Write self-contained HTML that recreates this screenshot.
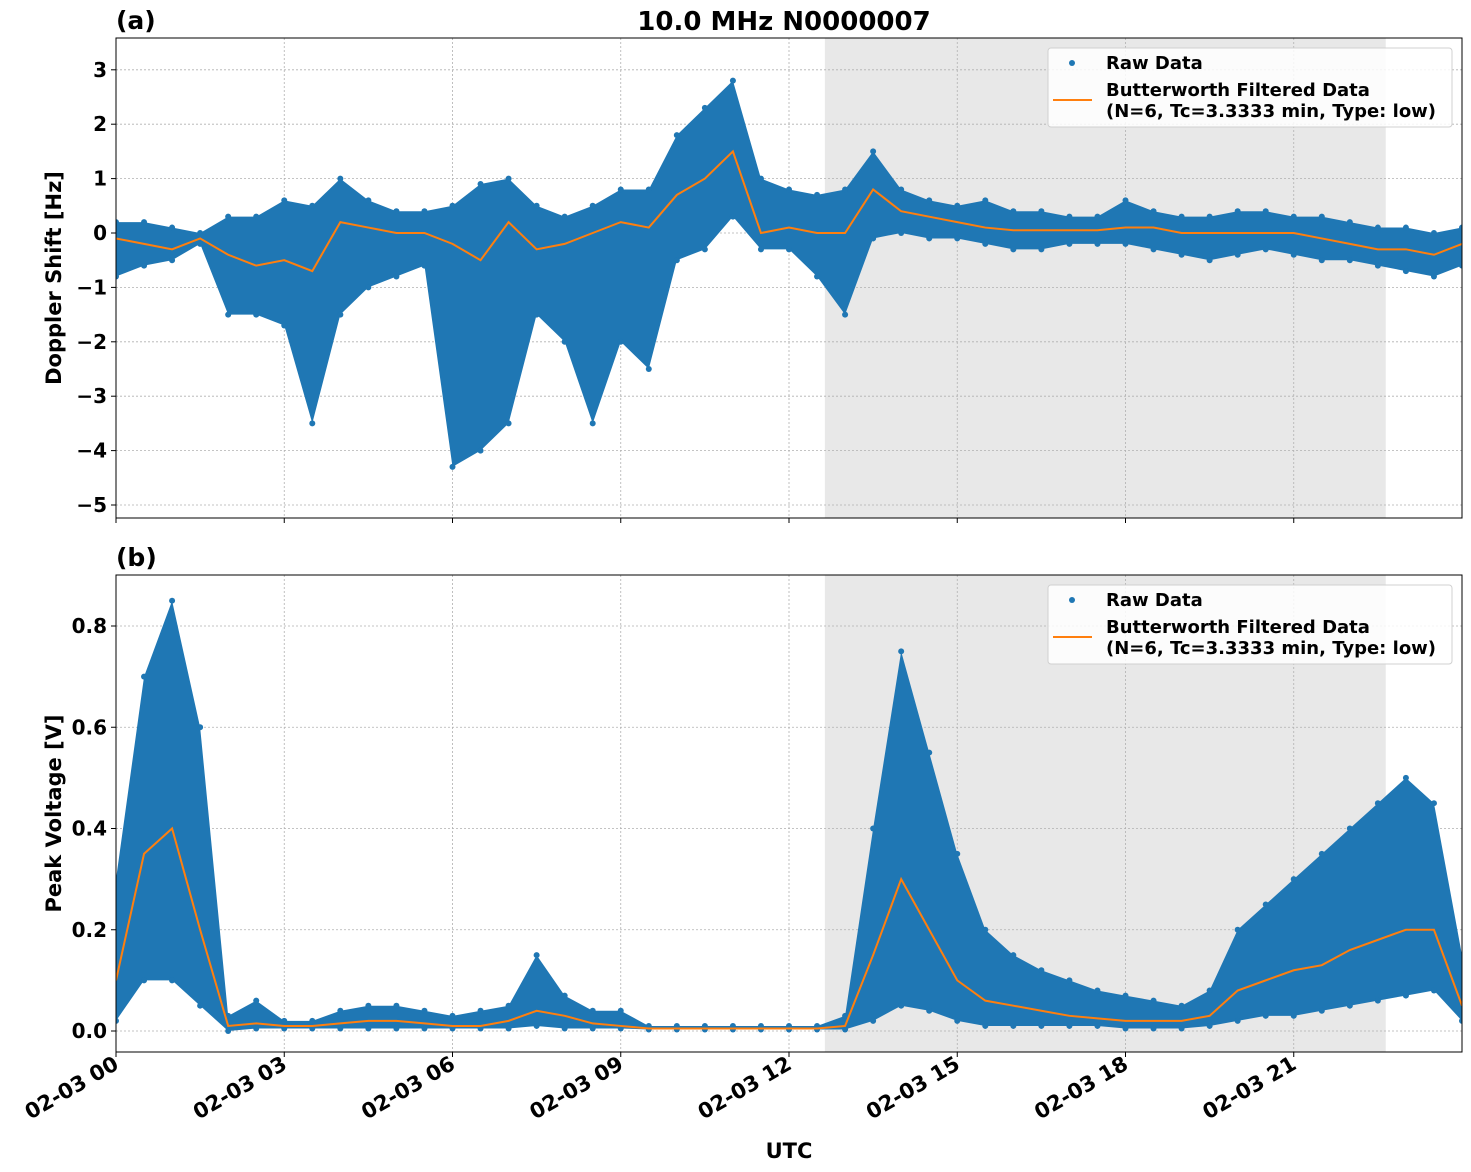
<!DOCTYPE html>
<html><head><meta charset="utf-8"><style>
body{margin:0;background:#fff;}
svg{display:block;font-family:"DejaVu Sans","Liberation Sans",sans-serif;font-weight:bold;}
</style></head><body>
<svg id="c" width="1471" height="1172" viewBox="0 0 1471 1172"></svg>
<script>
const hours=[0,0.5,1,1.5,2,2.5,3,3.5,4,4.5,5,5.5,6,6.5,7,7.5,8,8.5,9,9.5,10,10.5,11,11.5,12,12.5,13,13.5,14,14.5,15,15.5,16,16.5,17,17.5,18,18.5,19,19.5,20,20.5,21,21.5,22,22.5,23,23.5,24];
const dopFilt=[-0.1,-0.2,-0.3,-0.1,-0.4,-0.6,-0.5,-0.7,0.2,0.1,0,0,-0.2,-0.5,0.2,-0.3,-0.2,0,0.2,0.1,0.7,1.0,1.5,0,0.1,0,0,0.8,0.4,0.3,0.2,0.1,0.05,0.05,0.05,0.05,0.1,0.1,0,0,0,0,0,-0.1,-0.2,-0.3,-0.3,-0.4,-0.2];
const dopHi=[0.2,0.2,0.1,0,0.3,0.3,0.6,0.5,1.0,0.6,0.4,0.4,0.5,0.9,1.0,0.5,0.3,0.5,0.8,0.8,1.8,2.3,2.8,1.0,0.8,0.7,0.8,1.5,0.8,0.6,0.5,0.6,0.4,0.4,0.3,0.3,0.6,0.4,0.3,0.3,0.4,0.4,0.3,0.3,0.2,0.1,0.1,0,0.1];
const dopLo=[-0.8,-0.6,-0.5,-0.2,-1.5,-1.5,-1.7,-3.5,-1.5,-1.0,-0.8,-0.6,-4.3,-4.0,-3.5,-1.5,-2.0,-3.5,-2.0,-2.5,-0.5,-0.3,0.3,-0.3,-0.3,-0.8,-1.5,-0.1,0,-0.1,-0.1,-0.2,-0.3,-0.3,-0.2,-0.2,-0.2,-0.3,-0.4,-0.5,-0.4,-0.3,-0.4,-0.5,-0.5,-0.6,-0.7,-0.8,-0.6];
const vFilt=[0.1,0.35,0.4,0.2,0.01,0.015,0.01,0.01,0.015,0.02,0.02,0.015,0.01,0.01,0.02,0.04,0.03,0.015,0.01,0.005,0.005,0.005,0.005,0.005,0.005,0.005,0.01,0.15,0.3,0.2,0.1,0.06,0.05,0.04,0.03,0.025,0.02,0.02,0.02,0.03,0.08,0.1,0.12,0.13,0.16,0.18,0.2,0.2,0.05];
const vHi=[0.3,0.7,0.85,0.6,0.03,0.06,0.02,0.02,0.04,0.05,0.05,0.04,0.03,0.04,0.05,0.15,0.07,0.04,0.04,0.01,0.01,0.01,0.01,0.01,0.01,0.01,0.03,0.4,0.75,0.55,0.35,0.2,0.15,0.12,0.1,0.08,0.07,0.06,0.05,0.08,0.2,0.25,0.3,0.35,0.4,0.45,0.5,0.45,0.15];
const vLo=[0.02,0.1,0.1,0.05,0,0.005,0.005,0.005,0.005,0.005,0.005,0.005,0.005,0.005,0.005,0.01,0.005,0.005,0.005,0.003,0.003,0.003,0.003,0.003,0.003,0.003,0.003,0.02,0.05,0.04,0.02,0.01,0.01,0.01,0.01,0.01,0.005,0.005,0.005,0.01,0.02,0.03,0.03,0.04,0.05,0.06,0.07,0.08,0.02];
const xTicks=[0,3,6,9,12,15,18,21];
const xTickLabels=["02-03 00","02-03 03","02-03 06","02-03 09","02-03 12","02-03 15","02-03 18","02-03 21"];
const dopTicks=[3,2,1,0,-1,-2,-3,-4,-5];
const vTicks=[0.0,0.2,0.4,0.6,0.8];
const night=[12.64,22.64];

const NS="http://www.w3.org/2000/svg";
const svg=document.getElementById('c');
function mk(t,a,p){const e=document.createElementNS(NS,t);for(const k in a)e.setAttribute(k,a[k]);(p||svg).appendChild(e);return e;}
const X0=116,X1=1462;
const xs=h=>X0+h*(X1-X0)/24;
const yTop=v=>233-v*54.4;
const yBot=v=>1031-v*506.25;
function panel(name,top,bot,ys,ticks,fmt,hi,lo,filt,label,letter){
  const g=mk('g',{});
  
  
  const sh=mk('rect',{x:xs(night[0]),y:top,width:xs(night[1])-xs(night[0]),height:bot-top,fill:'#e8e8e8'},g);
  
  const clip=mk('clipPath',{id:'cl'+name},g);mk('rect',{x:X0,y:top,width:X1-X0,height:bot-top},clip);
  xTicks.forEach(t=>{const l=mk('line',{x1:xs(t),x2:xs(t),y1:top,y2:bot,stroke:'#b0b0b0','stroke-dasharray':'2,2','stroke-width':0.8},g);});
  ticks.forEach(t=>{const l=mk('line',{x1:X0,x2:X1,y1:ys(t),y2:ys(t),stroke:'#b0b0b0','stroke-dasharray':'2,2','stroke-width':0.8},g);
    mk('line',{x1:X0-5,x2:X0,y1:ys(t),y2:ys(t),stroke:'#000'},g);
    const tx=mk('text',{x:X0-9,y:ys(t)+7,'text-anchor':'end','font-size':20},g);tx.textContent=fmt(t);
    });
  const dg=mk('g',{'clip-path':'url(#cl'+name+')'},g);
  let pts=hours.map((h,i)=>xs(h)+','+ys(hi[i])).concat(hours.map((h,i)=>xs(h)+','+ys(lo[i])).reverse());
  const band=mk('polygon',{points:pts.join(' '),fill:'#1f77b4'},dg);
  
  hours.forEach((h,i)=>{[hi[i],lo[i]].forEach(v=>{const c=mk('circle',{cx:xs(h),cy:ys(v),r:3,fill:'#1f77b4'},dg);
    });});
  const ln=mk('polyline',{points:hours.map((h,i)=>xs(h)+','+ys(filt[i])).join(' '),fill:'none',stroke:'#ff7f0e','stroke-width':2},dg);
  
  mk('rect',{x:X0,y:top,width:X1-X0,height:bot-top,fill:'none',stroke:'#000','stroke-width':1},g);
  xTicks.forEach(t=>mk('line',{x1:xs(t),x2:xs(t),y1:bot,y2:bot+5,stroke:'#000'},g));
  const yl=mk('text',{x:0,y:0,'text-anchor':'middle','font-size':21,transform:`translate(61,${(top+bot)/2}) rotate(-90)`},g);yl.textContent=label;
  
  const lt=mk('text',{x:116,y:top-9,'font-size':25},g);lt.textContent=letter;
  
  const lg=mk('g',{},g);
  const ly=top+10;
  mk('rect',{x:1048,y:ly,width:404,height:79,rx:3,fill:'#fff','fill-opacity':0.85,stroke:'#d0d0d0'},lg);
  mk('circle',{cx:1072,cy:ly+15,r:3,fill:'#1f77b4'},lg);
  let t1=mk('text',{x:1106,y:ly+21,'font-size':18},lg);t1.textContent='Raw Data';
  mk('line',{x1:1053,x2:1092,y1:ly+52,y2:ly+52,stroke:'#ff7f0e','stroke-width':2},lg);
  let t2=mk('text',{x:1106,y:ly+48,'font-size':18},lg);t2.textContent='Butterworth Filtered Data';
  let t3=mk('text',{x:1106,y:ly+69,'font-size':18},lg);t3.textContent='(N=6, Tc=3.3333 min, Type: low)';
}
panel('doppler-panel',38,518,yTop,dopTicks,t=>t<0?'\u2212'+(-t):String(t),dopHi,dopLo,dopFilt,'Doppler Shift [Hz]','(a)');
panel('voltage-panel',575,1052,yBot,vTicks,t=>t.toFixed(1),vHi,vLo,vFilt,'Peak Voltage [V]','(b)');
const ti=mk('text',{x:784,y:30,'text-anchor':'middle','font-size':26});ti.textContent='10.0 MHz N0000007';

xTicks.forEach((t,i)=>{const tx=mk('text',{x:0,y:0,'text-anchor':'end','font-size':21,transform:`translate(${xs(t)+4},${1068}) rotate(-30)`});tx.textContent=xTickLabels[i];
  });
const xl=mk('text',{x:789,y:1158,'text-anchor':'middle','font-size':21});xl.textContent='UTC';

</script>
</body></html>
